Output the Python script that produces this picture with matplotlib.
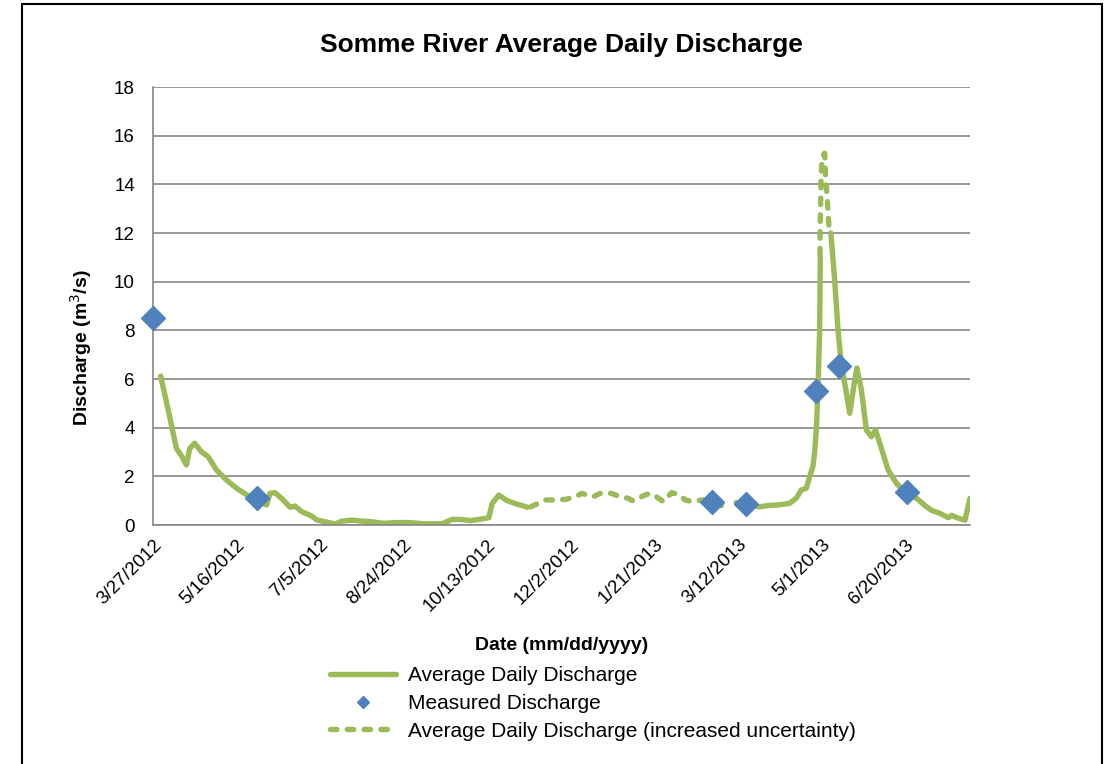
import numpy as np
import matplotlib
matplotlib.use("Agg")
import matplotlib.pyplot as plt
from matplotlib.patches import Rectangle

plt.rcParams['font.family'] = ['Liberation Sans', 'DejaVu Sans']

# x values are days after 3/27/2012
tick_days = [0, 50, 100, 150, 200, 250, 300, 350, 400, 450]
tick_labels = ['3/27/2012', '5/16/2012', '7/5/2012', '8/24/2012', '10/13/2012',
               '12/2/2012', '1/21/2013', '3/12/2013', '5/1/2013', '6/20/2013']

# average daily discharge (solid), nan = gap
avg_days = [4.6, 10, 14, 17, 20, 22, 25, 29, 33, 38, 44, 50, 58, 66, 68, 70, 73, 78,
            82, 85, 89, 95, 98, 104, 109, 113, 119, 125, 130, 138, 146, 154, 162, 173,
            179, 184, 190, 195, 201, 203, 207, 212, 218, 221, 224,
            np.nan,
            349, 357, 363, 368, 373, 377, 381, 385, 388, 391, 393, 395, 396, 397, 398,
            399, 399.4,
            np.nan,
            405.7, 408, 410, 412, 414.7, 417, 419.7, 421.3, 424, 427, 430, 432.5, 435,
            440, 445, 451, 457, 462, 466, 471, 476, 478, 482, 486, 489]
avg_q = [6.12, 4.45, 3.15, 2.85, 2.47, 3.15, 3.36, 3.01, 2.81, 2.26, 1.85, 1.51, 1.16,
         0.89, 0.82, 1.30, 1.33, 1.03, 0.73, 0.78, 0.55, 0.37, 0.21, 0.12, 0.04, 0.16,
         0.20, 0.16, 0.14, 0.07, 0.10, 0.10, 0.05, 0.05, 0.23, 0.23, 0.18, 0.23, 0.30,
         0.89, 1.23, 1.00, 0.85, 0.80, 0.73,
         np.nan,
         0.92, 0.82, 0.75, 0.80, 0.82, 0.85, 0.89, 1.10, 1.44, 1.51, 1.99, 2.40, 3.00,
         3.90, 5.55, 8.00, 11.0,
         np.nan,
         12.0, 10.07, 8.0, 6.6, 5.55, 4.59, 5.82, 6.45, 5.55, 3.9, 3.63, 3.9, 3.36,
         2.26, 1.71, 1.30, 1.10, 0.80, 0.60, 0.48, 0.30, 0.40, 0.28, 0.20, 1.10]

# average daily discharge, increased uncertainty (dashed)
unc_days = [226, 229.6, 234.6, 241.6, 247.6, 253.6, 256.6, 263.5, 267.5, 274.5, 279.5,
            284.4, 287.4, 294.4, 297.4, 301.4, 305.4, 310.4, 315.4, 318.4, 323.3,
            328.4, 335.3, 339.3, 344.3,
            np.nan,
            399.2, 399.3, 399.6, 399.8, 400.5, 402, 402.6, 403.6, 404.5, 405.7]
unc_q = [0.75, 0.86, 1.03, 1.03, 1.06, 1.19, 1.30, 1.16, 1.30, 1.30, 1.16, 1.10, 0.99,
         1.23, 1.30, 1.16, 0.96, 1.33, 1.23, 1.03, 0.96, 1.03, 0.96, 0.82, 0.69,
         np.nan,
         11.1, 12.2, 13.15, 14.1, 15.14, 15.28, 14.25, 13.36, 12.33, 12.0]

# measured discharge
meas_days = [0, 62, 334.5, 355, 397, 410.5, 451]
meas_q = [8.5, 1.1, 0.95, 0.86, 5.5, 6.55, 1.35]

green = '#9BBB59'
blue = '#4F81BD'
grid_c = '#868686'

fig = plt.figure(figsize=(11.11, 7.64), dpi=100)
ax = fig.add_axes([0.1377, 0.3128, 0.7354, 0.5733])

ax.plot(avg_days, avg_q, color=green, lw=3.9, solid_capstyle='round',
        solid_joinstyle='round', label='Average Daily Discharge')
ax.plot(meas_days, meas_q, linestyle='none', marker='D', ms=12, color=blue,
        clip_on=False, zorder=5, label='Measured Discharge')
ax.plot(unc_days, unc_q, color=green, lw=3.9, dashes=(1.2, 1.9),
        dash_capstyle='round', label='Average Daily Discharge (increased uncertainty)')

ax.set_xlim(0, 489)
ax.set_ylim(0, 18)
ax.set_yticks(range(0, 19, 2))
ax.set_xticks(tick_days)
ax.set_xticklabels(tick_labels, rotation=45, ha='right', rotation_mode='anchor')
ax.tick_params(axis='x', length=0, pad=8, labelsize=13.5)
ax.tick_params(axis='y', length=0, pad=13, labelsize=13.5)
ax.grid(axis='y', color=grid_c, lw=1.2)
ax.set_axisbelow(True)
for s in ['top', 'right']:
    ax.spines[s].set_visible(False)
for s in ['left', 'bottom']:
    ax.spines[s].set_color(grid_c)
    ax.spines[s].set_linewidth(1.2)

ax.set_title('Somme River Average Daily Discharge', fontsize=19, fontweight='bold', pad=25)
ax.set_xlabel('Date (mm/dd/yyyy)', fontsize=14, fontweight='bold')
ax.set_ylabel('Discharge (m$^3$/s)', fontsize=14, fontweight='bold')
ax.xaxis.set_label_coords(0.5, -0.255)
ax.yaxis.set_label_coords(-0.072, 0.406)

ax.legend(loc='upper left', bbox_to_anchor=(0.297, 0.128), bbox_transform=fig.transFigure,
          frameon=False, fontsize=15, handlelength=3.15, handletextpad=0.58,
          labelspacing=0.42, borderpad=0, borderaxespad=0, markerscale=0.5)

fig.patches.append(Rectangle((0.0198, -0.05), 0.972, 1.0448, transform=fig.transFigure,
                             fill=False, edgecolor='black', lw=1.5, clip_on=False))

fig.savefig('out.png', dpi=100)
